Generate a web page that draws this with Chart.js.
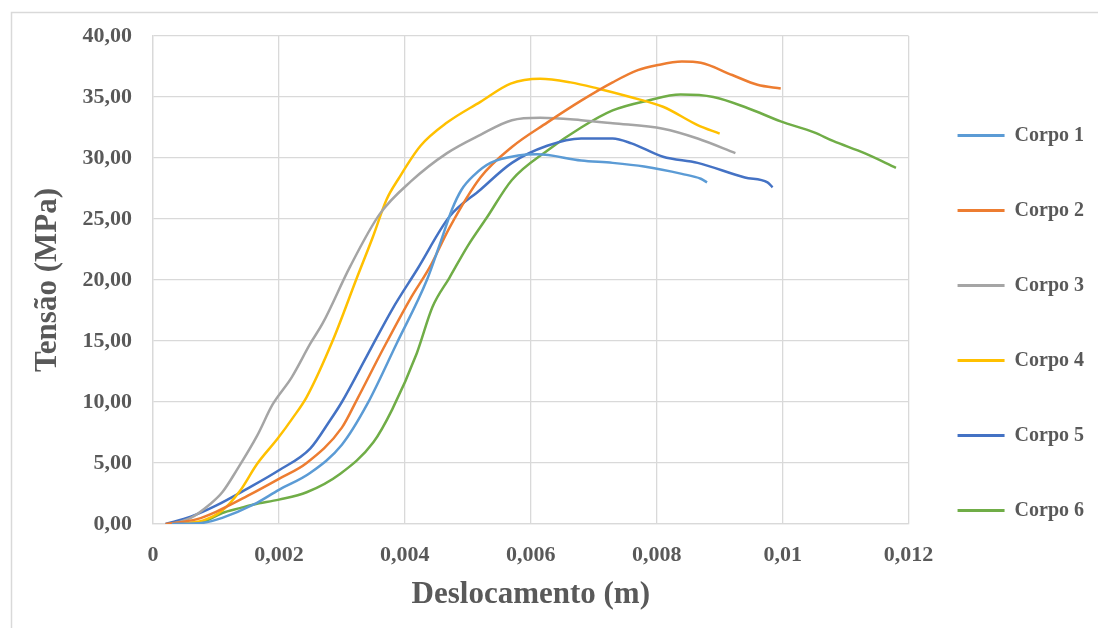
<!DOCTYPE html>
<html>
<head>
<meta charset="utf-8">
<script src="https://cdn.jsdelivr.net/npm/chart.js@4"></script>
<style>
  html, body { margin: 0; padding: 0; background: #fff; }
  #wrap { width: 1098px; height: 628px; }
</style>
</head>
<body>
<div id="wrap"><canvas id="chart" width="1098" height="628"></canvas></div>
<script>
// Deslocamento (m) x Tensão (MPa)
const corpo1 = [[0.0003, 0], [0.0008, 0.1], [0.0011, 0.5], [0.0016, 1.6], [0.002, 2.8], [0.0025, 4.2], [0.003, 6.5],
  [0.0034, 9.8], [0.00387, 14.8], [0.00435, 20.0], [0.00456, 23.0], [0.00475, 25.8], [0.0049, 27.4], [0.0051, 28.6],
  [0.00536, 29.6], [0.0058, 30.2], [0.0061, 30.3], [0.0068, 29.8], [0.0073, 29.6], [0.0078, 29.3], [0.0084, 28.7],
  [0.0087, 28.3], [0.0088, 28.0]];
const corpo2 = [[0.0002, 0], [0.0007, 0.4], [0.001, 1.0], [0.0015, 2.3], [0.002, 3.7], [0.00244, 5.0], [0.003, 7.9],
  [0.00324, 10.2], [0.00365, 14.3], [0.00408, 18.4], [0.0044, 21.1], [0.00471, 24.3], [0.0052, 28.4], [0.0057, 30.9],
  [0.00626, 32.9], [0.0068, 34.7], [0.0073, 36.2], [0.0077, 37.2], [0.008, 37.6], [0.0084, 37.9], [0.0087, 37.8],
  [0.0092, 36.8], [0.0096, 36.0], [0.00997, 35.7]];
const corpo3 = [[0.0003, 0], [0.0006, 0.5], [0.0009, 1.6], [0.0011, 2.6], [0.00134, 4.5], [0.00165, 7.2], [0.0019, 9.8],
  [0.0022, 12.0], [0.0025, 14.8], [0.0027, 16.5], [0.00313, 21.1], [0.0036, 25.4], [0.0041, 28.1], [0.00467, 30.4],
  [0.0052, 31.9], [0.0057, 33.1], [0.00615, 33.3], [0.0068, 33.1], [0.0073, 32.85], [0.0081, 32.4], [0.00865, 31.6],
  [0.00925, 30.4]];
const corpo4 = [[0.0003, 0], [0.0008, 0.3], [0.0011, 1.1], [0.00138, 2.7], [0.00165, 4.9], [0.00198, 7.0], [0.00222, 8.7],
  [0.00244, 10.4], [0.00286, 15.1], [0.00324, 20.2], [0.00349, 23.5], [0.00371, 26.6], [0.0039, 28.3], [0.00425, 31.0],
  [0.00467, 32.9], [0.0052, 34.6], [0.00568, 36.1], [0.00615, 36.5], [0.00663, 36.2], [0.00706, 35.7], [0.00758, 35.0],
  [0.0081, 34.2], [0.00865, 32.7], [0.009, 32.0]];
const corpo5 = [[0.0002, 0], [0.0006, 0.6], [0.001, 1.5], [0.0015, 2.9], [0.002, 4.4], [0.0025, 6.2], [0.0028, 8.4],
  [0.003, 10.0], [0.0034, 13.8], [0.0038, 17.6], [0.0042, 20.9], [0.00471, 25.2], [0.0052, 27.4], [0.0057, 29.6],
  [0.00626, 31.0], [0.0068, 31.6], [0.0073, 31.6], [0.0076, 31.2], [0.0081, 30.1], [0.00865, 29.6], [0.0094, 28.4],
  [0.00976, 28.0], [0.00984, 27.6]];
const corpo6 = [[0.0003, 0], [0.0008, 0.2], [0.0011, 0.9], [0.00138, 1.3], [0.0016, 1.6], [0.002, 2.0], [0.00244, 2.6],
  [0.00297, 4.1], [0.0035, 6.7], [0.0038, 9.4], [0.00419, 14.0], [0.00444, 17.8], [0.00471, 20.2], [0.005, 22.8],
  [0.0053, 25.1], [0.0057, 28.2], [0.00626, 30.6], [0.0068, 32.5], [0.0073, 33.9], [0.00785, 34.7], [0.00838, 35.2],
  [0.0089, 35.0], [0.00944, 34.1], [0.00997, 33.0], [0.0105, 32.1], [0.0108, 31.4], [0.0113, 30.4], [0.0118, 29.2]];

const seriesNames = ["Corpo 1", "Corpo 2", "Corpo 3", "Corpo 4", "Corpo 5", "Corpo 6"];
const seriesData = [corpo1, corpo2, corpo3, corpo4, corpo5, corpo6];
const seriesColors = ["#5b9bd5", "#ed7d31", "#a5a5a5", "#ffc000", "#4472c4", "#70ad47"];
const xTickLabels = ["0", "0,002", "0,004", "0,006", "0,008", "0,01", "0,012"];

const textColor = "#595959";
const gridColor = "#d9d9d9";
const serif = "'Liberation Serif', 'Times New Roman', serif";

// outer frame like the pasted Excel chart
const frame = {
  id: "frame",
  beforeDraw(chart) {
    const { ctx, width, height } = chart;
    ctx.save();
    ctx.fillStyle = "#fff";
    ctx.fillRect(0, 0, width, height);
    ctx.strokeStyle = gridColor;
    ctx.lineWidth = 1.5;
    ctx.beginPath();
    ctx.moveTo(11.5, height);
    ctx.lineTo(11.5, 12.5);
    ctx.lineTo(width, 12.5);
    ctx.stroke();
    ctx.restore();
  },
};

// legend samples drawn as plain lines in the legend's own hit boxes
const legendLines = {
  id: "legendLines",
  afterDraw(chart) {
    const legend = chart.legend;
    if (!legend || !legend.legendHitBoxes) return;
    const { ctx } = chart;
    ctx.save();
    ctx.lineWidth = 3;
    legend.legendHitBoxes.forEach((box, i) => {
      const y = box.top + box.height / 2;
      ctx.strokeStyle = seriesColors[i];
      ctx.beginPath();
      ctx.moveTo(box.left, y);
      ctx.lineTo(box.left + 47, y);
      ctx.stroke();
    });
    ctx.restore();
  },
};

new Chart(document.getElementById("chart"), {
  type: "scatter",
  data: {
    datasets: seriesNames.map((name, i) => ({
      label: name,
      data: seriesData[i].map(([x, y]) => ({ x, y })),
      borderColor: seriesColors[i],
      backgroundColor: seriesColors[i],
      borderWidth: 2.5,
      showLine: true,
      pointRadius: 0,
      cubicInterpolationMode: "monotone",
    })),
  },
  options: {
    responsive: false,
    animation: false,
    layout: { padding: { left: 0, top: 36, right: 4, bottom: 18 } },
    scales: {
      x: {
        type: "linear",
        min: 0,
        max: 0.012,
        afterFit: (scale) => { scale.height = 86; },
        ticks: {
          stepSize: 0.002,
          padding: 18,
          color: textColor,
          font: { family: serif, size: 22, weight: "bold" },
          callback: (value, index) => xTickLabels[index],
          maxRotation: 0,
        },
        grid: { color: gridColor, lineWidth: 1.3, drawTicks: false },
        border: { color: gridColor, width: 1.3 },
        title: {
          display: true,
          text: "Deslocamento (m)",
          color: textColor,
          font: { family: serif, size: 31, weight: "bold", lineHeight: 1 },
          padding: { top: 0, bottom: 0 },
        },
      },
      y: {
        min: 0,
        max: 40,
        afterFit: (scale) => { scale.width = 153; },
        ticks: {
          stepSize: 5,
          padding: 21,
          color: textColor,
          font: { family: serif, size: 22, weight: "bold" },
          callback: (value) => value.toFixed(2).replace(".", ","),
        },
        grid: { color: gridColor, lineWidth: 1.3, drawTicks: false },
        border: { color: gridColor, width: 1.3 },
        title: {
          display: true,
          text: "Tensão (MPa)",
          color: textColor,
          font: { family: serif, size: 31, weight: "bold", lineHeight: 1 },
          padding: { top: 32, bottom: 0 },
        },
      },
    },
    plugins: {
      tooltip: { enabled: false },
      legend: {
        position: "right",
        labels: {
          color: textColor,
          font: { family: serif, size: 20, weight: "bold" },
          boxWidth: 47,
          boxHeight: 26,
          padding: 49,
          generateLabels: (chart) =>
            Chart.defaults.plugins.legend.labels.generateLabels(chart).map((item) => ({
              ...item,
              fillStyle: "rgba(0,0,0,0)",
              strokeStyle: "rgba(0,0,0,0)",
              lineWidth: 0,
            })),
        },
      },
    },
  },
  plugins: [frame, legendLines],
});
</script>
</body>
</html>
